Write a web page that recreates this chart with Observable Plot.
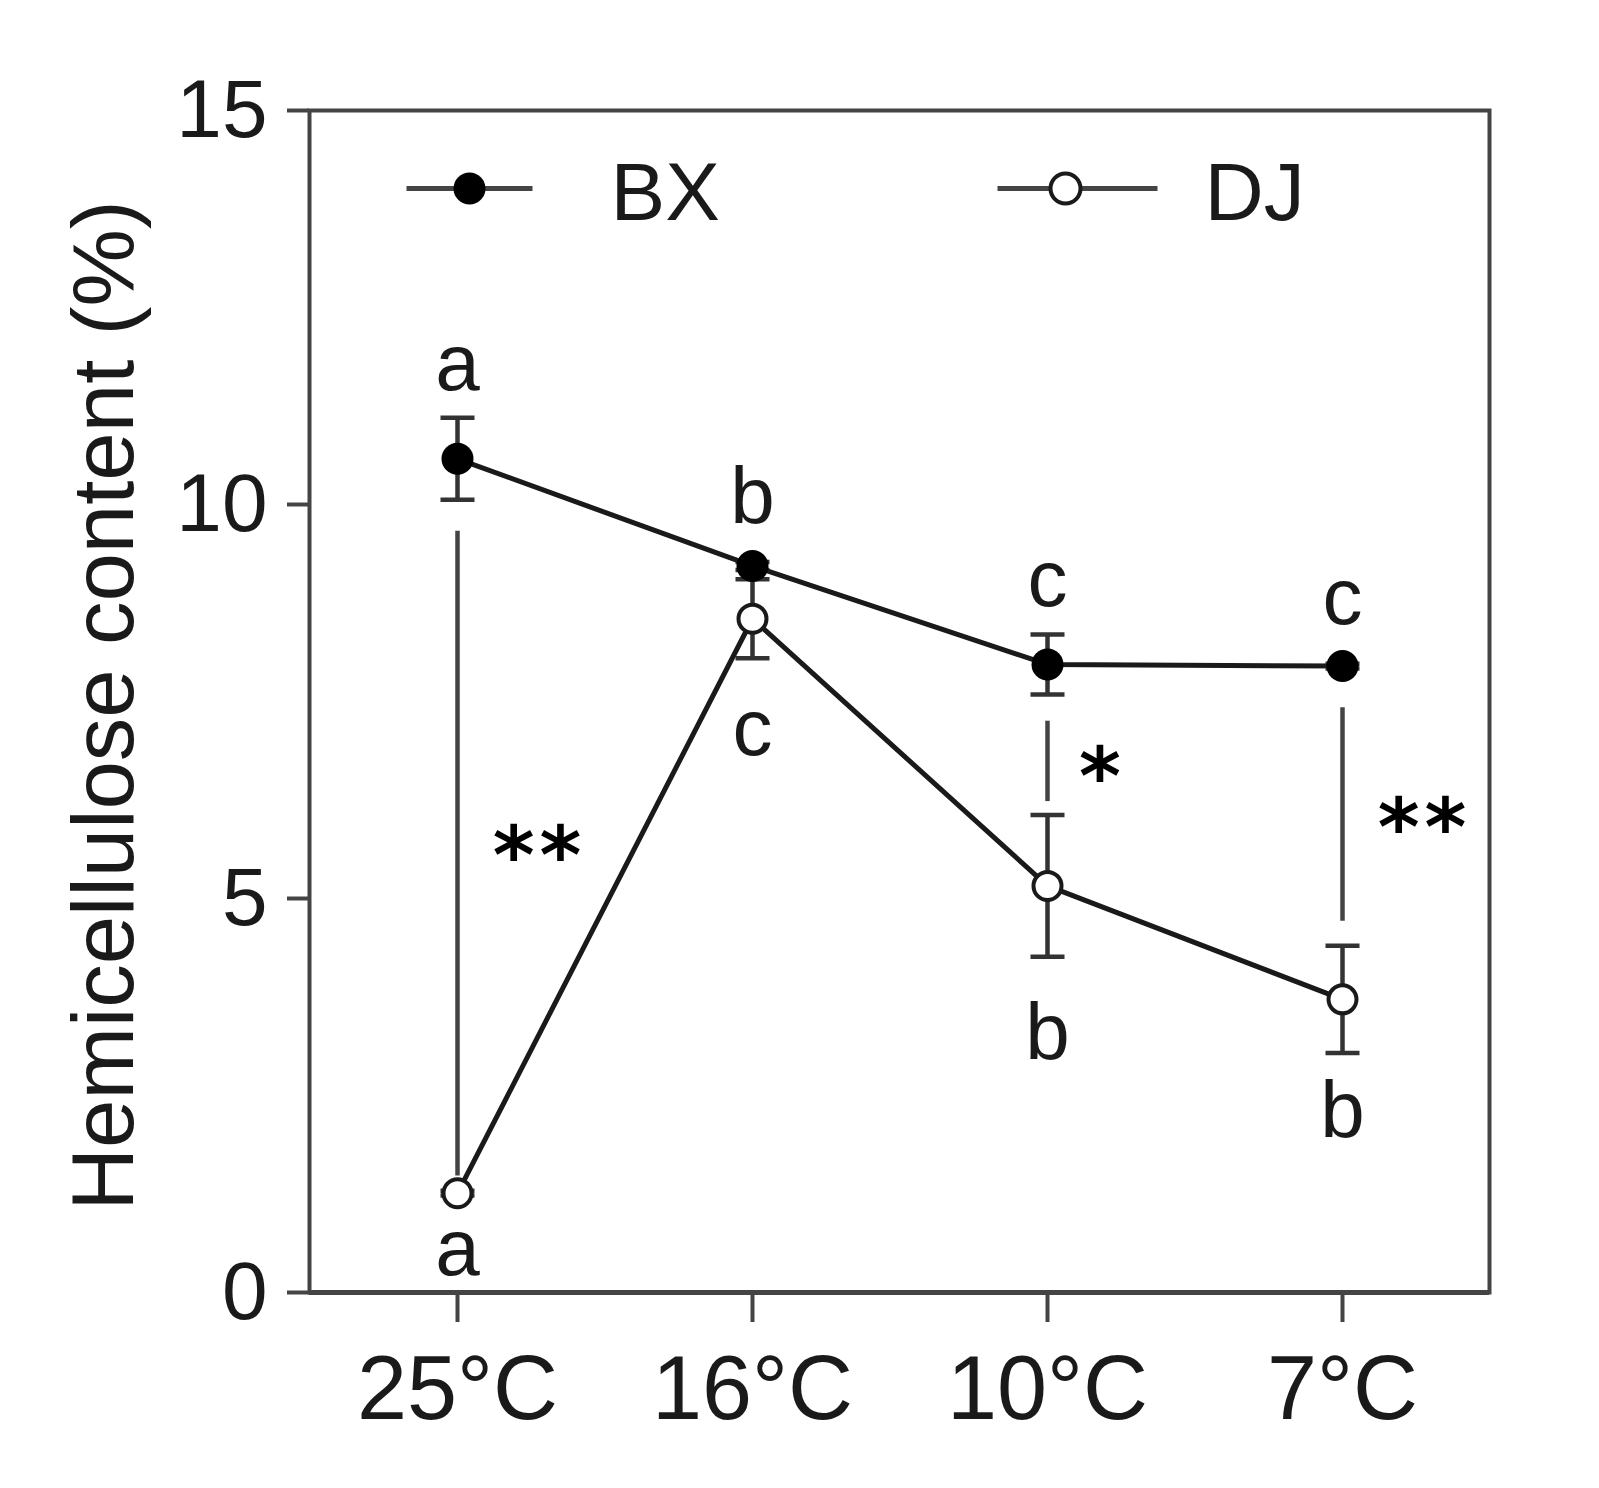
<!DOCTYPE html>
<html>
<head>
<meta charset="utf-8">
<script src="https://cdn.jsdelivr.net/npm/d3@7"></script>
<script src="https://cdn.jsdelivr.net/npm/@observablehq/plot@0.6"></script>
<style>
  html, body { margin: 0; padding: 0; background: #fff; }
  #chart { width: 1599px; height: 1488px; }
</style>
</head>
<body>
<div id="chart"></div>
<script>
// ---- data ----
const temps = ["25°C", "16°C", "10°C", "7°C"];
const seriesNames = ["BX", "DJ"];
const bxMean = [10.58, 9.22, 7.97, 7.95];
const bxErr  = [0.52, 0.05, 0.38, 0.03];
const djMean = [1.26, 8.55, 5.16, 3.72];
const djErr  = [0.03, 0.50, 0.90, 0.68];
const yTicks = [0, 5, 10, 15];

// significance brackets (vertical lines) and stars
const sigTemp = ["25°C", "10°C", "7°C"];
const sigLo   = [1.48, 6.23, 4.71];
const sigHi   = [9.66, 7.25, 7.42];
const sigText = ["**", "*", "**"];
const sigY    = [5.67, 6.68, 6.03];

// letter annotations
const letterTemp = ["25°C", "16°C", "10°C", "7°C", "25°C", "16°C", "10°C", "7°C"];
const letterText = ["a", "b", "c", "c", "a", "c", "b", "b"];
const letterY    = [11.78, 10.09, 9.04, 8.81, 0.55, 7.15, 3.29, 2.30];

const yTitle = "Hemicellulose content (%)";

// ---- tables built from the arrays ----
const bx = temps.map((t, i) => ({temp: t, series: "BX", mean: bxMean[i], lo: bxMean[i] - bxErr[i], hi: bxMean[i] + bxErr[i]}));
const dj = temps.map((t, i) => ({temp: t, series: "DJ", mean: djMean[i], lo: djMean[i] - djErr[i], hi: djMean[i] + djErr[i]}));
const all = bx.concat(dj);
const sig = sigTemp.map((t, i) => ({temp: t, lo: sigLo[i], hi: sigHi[i], label: sigText[i], y: sigY[i]}));
const letters = letterTemp.map((t, i) => ({temp: t, label: letterText[i], y: letterY[i]}));

// horizontal line symbol for error-bar caps and legend lines
const hline = {draw(ctx, size) { const w = Math.sqrt(size / Math.PI); ctx.moveTo(-w, 0); ctx.lineTo(w, 0); }};

const ink = "#1a1a1a";
const axisInk = "#444";
const font = "'Liberation Sans', Arial, Helvetica, sans-serif";
const starFont = "'DejaVu Sans', sans-serif";

const plot = Plot.plot({
  width: 1599,
  height: 1488,
  marginLeft: 309,
  marginRight: 110,
  marginTop: 110,
  marginBottom: 196,
  style: {fontFamily: font, color: ink, background: "#fff"},
  x: {type: "point", domain: temps, padding: 0.5},
  y: {domain: [0, 15]},
  marks: [
    Plot.frame({stroke: axisInk, strokeWidth: 4}),
    Plot.ruleY([0], {stroke: axisInk, strokeWidth: 5}),
    Plot.axisY({ticks: yTicks, tickSize: 22, tickPadding: 20, fontSize: 82, label: null, stroke: axisInk, strokeWidth: 4, tickFormat: d => String(d)}),
    Plot.axisX({tickSize: 30, tickPadding: 33, fontSize: 90, label: null, stroke: axisInk, strokeWidth: 4}),
    Plot.text([yTitle], {frameAnchor: "left", textAnchor: "middle", lineAnchor: "middle", rotate: -90, dx: -204, dy: 4, fontSize: 87, fill: ink}),
    // significance vertical lines
    Plot.ruleX(sig, {x: "temp", y1: "lo", y2: "hi", stroke: axisInk, strokeWidth: 4.5}),
    // error bars
    Plot.ruleX(all, {x: "temp", y1: "lo", y2: "hi", stroke: "#333", strokeWidth: 4.5}),
    Plot.dot(all, {x: "temp", y: "lo", symbol: hline, r: 17, stroke: "#333", strokeWidth: 4.5}),
    Plot.dot(all, {x: "temp", y: "hi", symbol: hline, r: 17, stroke: "#333", strokeWidth: 4.5}),
    // series lines
    Plot.line(bx, {x: "temp", y: "mean", stroke: ink, strokeWidth: 5}),
    Plot.line(dj, {x: "temp", y: "mean", stroke: ink, strokeWidth: 5}),
    // points
    Plot.dot(dj, {x: "temp", y: "mean", r: 14, fill: "#fff", stroke: ink, strokeWidth: 4}),
    Plot.dot(bx, {x: "temp", y: "mean", r: 16, fill: "#000"}),
    // letters
    Plot.text(letters, {x: "temp", y: "y", text: "label", fontSize: 80, fill: ink}),
    // stars
    Plot.text(sig.filter(d => d.label === "**"), {x: "temp", y: "y", text: "label", dx: 82, dy: 12, fontSize: 80, fontWeight: "bold", fontFamily: starFont, fill: "#000"}),
    Plot.text(sig.filter(d => d.label === "*"), {x: "temp", y: "y", text: "label", dx: 55, dy: 12, fontSize: 80, fontWeight: "bold", fontFamily: starFont, fill: "#000"}),
    // legend (inside frame, top)
    Plot.dot([seriesNames[0]], {frameAnchor: "top-left", dx: 160, dy: 78, symbol: hline, r: 63, stroke: "#444", strokeWidth: 5}),
    Plot.dot([seriesNames[0]], {frameAnchor: "top-left", dx: 160, dy: 78, r: 16, fill: "#000"}),
    Plot.text([seriesNames[0]], {frameAnchor: "top-left", dx: 301, dy: 83, text: d => d, textAnchor: "start", lineAnchor: "middle", fontSize: 82, fill: ink}),
    Plot.dot([seriesNames[1]], {frameAnchor: "top-left", dx: 768, dy: 78, symbol: hline, r: 80, stroke: "#444", strokeWidth: 5}),
    Plot.dot([seriesNames[1]], {frameAnchor: "top-left", dx: 756, dy: 78, r: 15, fill: "#fff", stroke: ink, strokeWidth: 4}),
    Plot.text([seriesNames[1]], {frameAnchor: "top-left", dx: 895, dy: 83, text: d => d, textAnchor: "start", lineAnchor: "middle", fontSize: 82, fill: ink})
  ]
});

// spread the star glyphs a little, as in the reference
d3.select(plot).selectAll("text").filter(function() { return /^\*+$/.test(this.textContent); })
  .attr("letter-spacing", "5px");

document.getElementById("chart").appendChild(plot);
</script>
</body>
</html>
